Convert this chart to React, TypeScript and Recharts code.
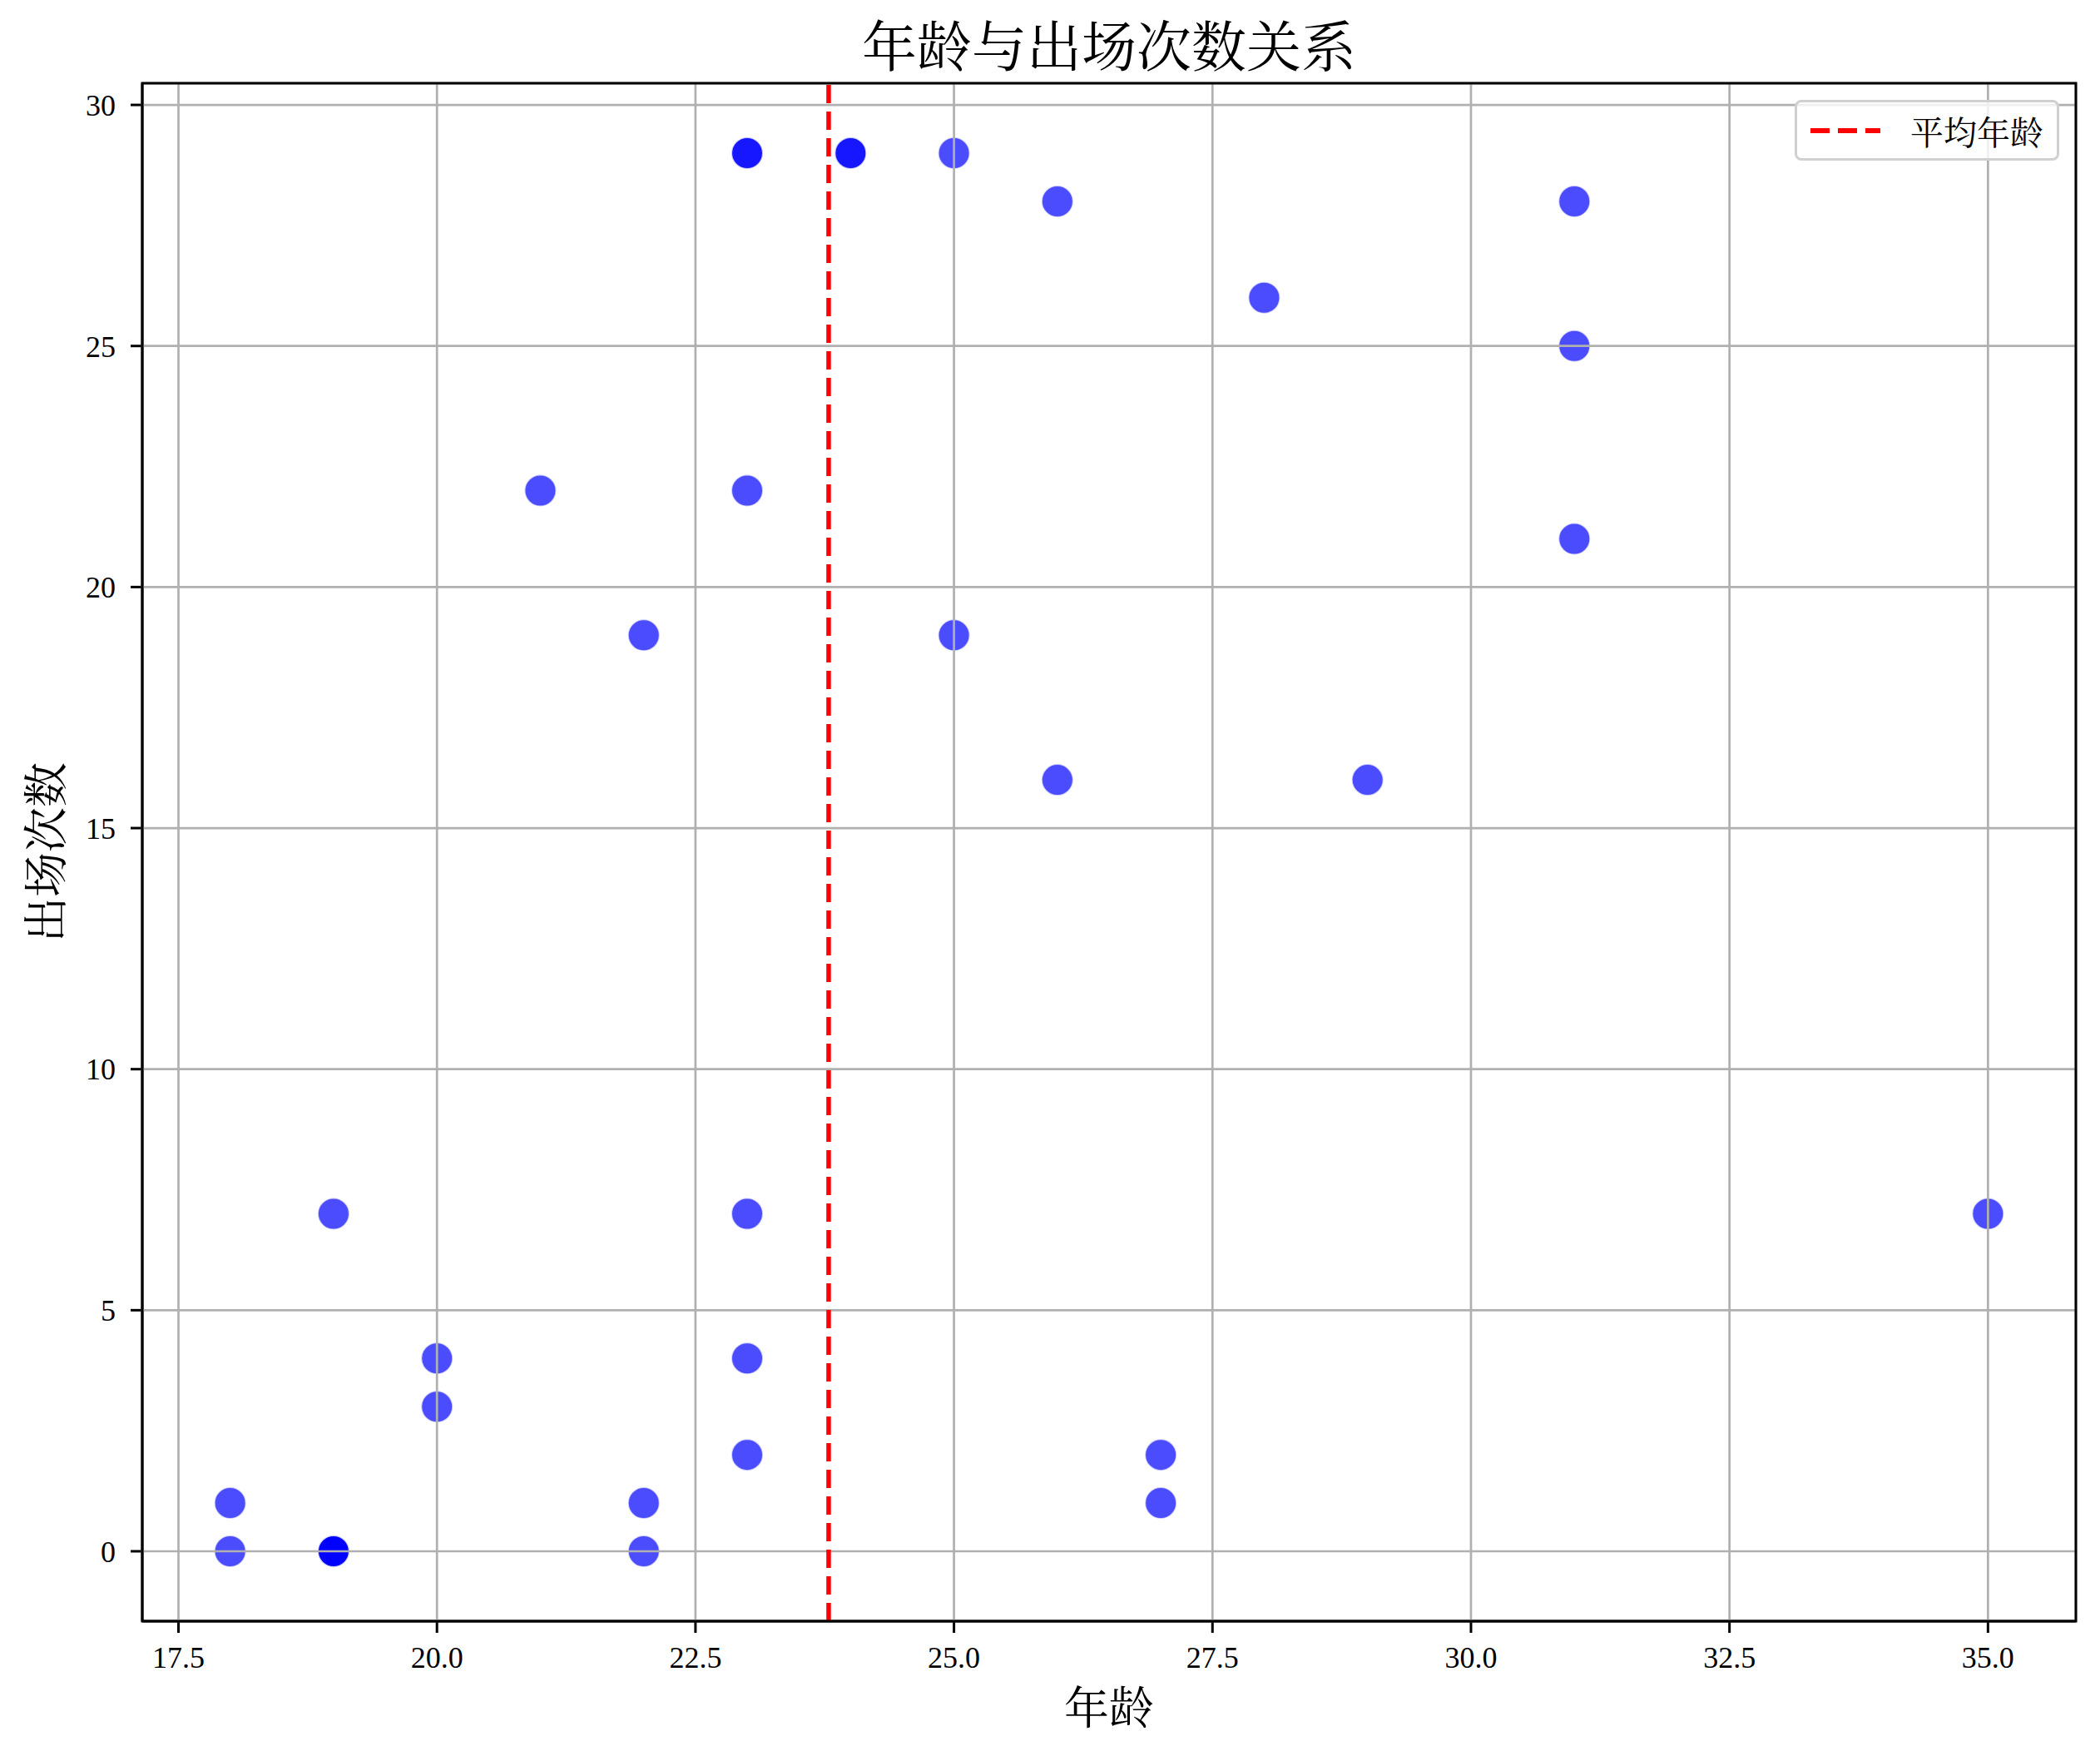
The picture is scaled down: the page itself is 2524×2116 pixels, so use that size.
import React from 'react';
import {
  ScatterChart, Scatter, XAxis, YAxis, CartesianGrid, ReferenceLine, ReferenceArea, Label
} from 'recharts';

// 年龄 / 出场次数 (duplicates kept: they overlap and show darker)
const ages = [23, 23, 24, 24, 25, 26, 31, 28, 31, 21, 23, 31, 22, 25, 26, 29, 19, 23, 35, 20, 23, 20, 23, 27, 18, 22, 27, 18, 19, 19, 19, 19, 22];
const appearances = [29, 29, 29, 29, 29, 28, 28, 26, 25, 22, 22, 21, 19, 19, 16, 16, 7, 7, 7, 4, 4, 3, 2, 2, 1, 1, 1, 0, 0, 0, 0, 0, 0];

const xTicks = [17.5, 20, 22.5, 25, 27.5, 30, 32.5, 35];
const yTicks = [0, 5, 10, 15, 20, 25, 30];
const xDomain: [number, number] = [17.15, 35.85];
const yDomain: [number, number] = [-1.45, 30.45];

const data = ages.map((a, i) => ({ age: a, apps: appearances[i] }));
const meanAge = ages.reduce((s, v) => s + v, 0) / ages.length;

const FONT = "'Liberation Serif', 'Noto Serif CJK SC', 'Noto Sans CJK SC', serif";
const tickStyle = { fontSize: 36, fill: '#000', fontFamily: FONT };

const Dot = (props: any) => {
  const { cx, cy } = props;
  return (
    <circle cx={cx} cy={cy} r={19} fill="#0000ff" fillOpacity={0.7}
      stroke="#ffffff" strokeOpacity={0.7} strokeWidth={2} />
  );
};

const LegendBox = () => (
  <div style={{
    position: 'absolute', left: 2157, top: 120,
    boxSizing: 'border-box', width: 318, height: 73, border: '3px solid #d0d0d0',
    borderRadius: 8, background: 'rgba(255,255,255,0.8)', display: 'flex', alignItems: 'center'
  }}>
    <svg width={100} height={20} style={{ marginLeft: 14 }}>
      <line x1={2} y1={10} x2={86} y2={10} stroke="#ff0000" strokeWidth={6} strokeDasharray="23 10" />
    </svg>
    <span style={{ fontSize: 40, fontFamily: FONT, marginLeft: 22, color: '#000' }}>平均年龄</span>
  </div>
);

const App: React.FC = () => {
  return (
    <div style={{ position: 'absolute', left: 0, top: 0, width: 2524, height: 2116, background: '#fff' }}>
      <div style={{
        position: 'absolute', left: 171, width: 2324, top: 18, textAlign: 'center',
        fontSize: 66, lineHeight: '80px', fontFamily: FONT, color: '#000'
      }}>
        年龄与出场次数关系
      </div>
      <ScatterChart
        width={2524}
        height={2116}
        margin={{ top: 100, right: 29, left: 51, bottom: 48 }}
        style={{ fontFamily: FONT }}
      >
        <XAxis
          type="number" dataKey="age" domain={xDomain} ticks={xTicks} allowDataOverflow
          tickFormatter={(v: number) => v.toFixed(1)} height={120}
          tick={tickStyle} tickSize={14} tickMargin={16}
          tickLine={{ stroke: '#000', strokeWidth: 3 }} axisLine={{ stroke: '#000', strokeWidth: 3 }}
        >
          <Label value="年龄" position="center" dy={45} style={{ fontSize: 54, fill: '#000', fontFamily: FONT }} />
        </XAxis>
        <YAxis
          type="number" dataKey="apps" domain={yDomain} ticks={yTicks} allowDataOverflow
          width={120} tick={tickStyle} tickSize={14} tickMargin={18}
          tickLine={{ stroke: '#000', strokeWidth: 3 }} axisLine={{ stroke: '#000', strokeWidth: 3 }}
        >
          <Label value="出场次数" position="center" angle={-90} dx={-55}
            style={{ fontSize: 54, fill: '#000', fontFamily: FONT, textAnchor: 'middle' }} />
        </YAxis>
        <Scatter data={data} shape={Dot} isAnimationActive={false} />
        <CartesianGrid stroke="#b0b0b0" strokeWidth={2.7} zIndex={700} />
        <ReferenceLine x={meanAge} stroke="#ff0000" strokeWidth={5.5} strokeDasharray="22 10" zIndex={800} />
        <ReferenceArea x1={xDomain[0]} x2={xDomain[1]} y1={yDomain[0]} y2={yDomain[1]}
          fill="none" fillOpacity={0} stroke="#000" strokeWidth={3} zIndex={900} />
      </ScatterChart>
      <LegendBox />
    </div>
  );
};

export default App;
